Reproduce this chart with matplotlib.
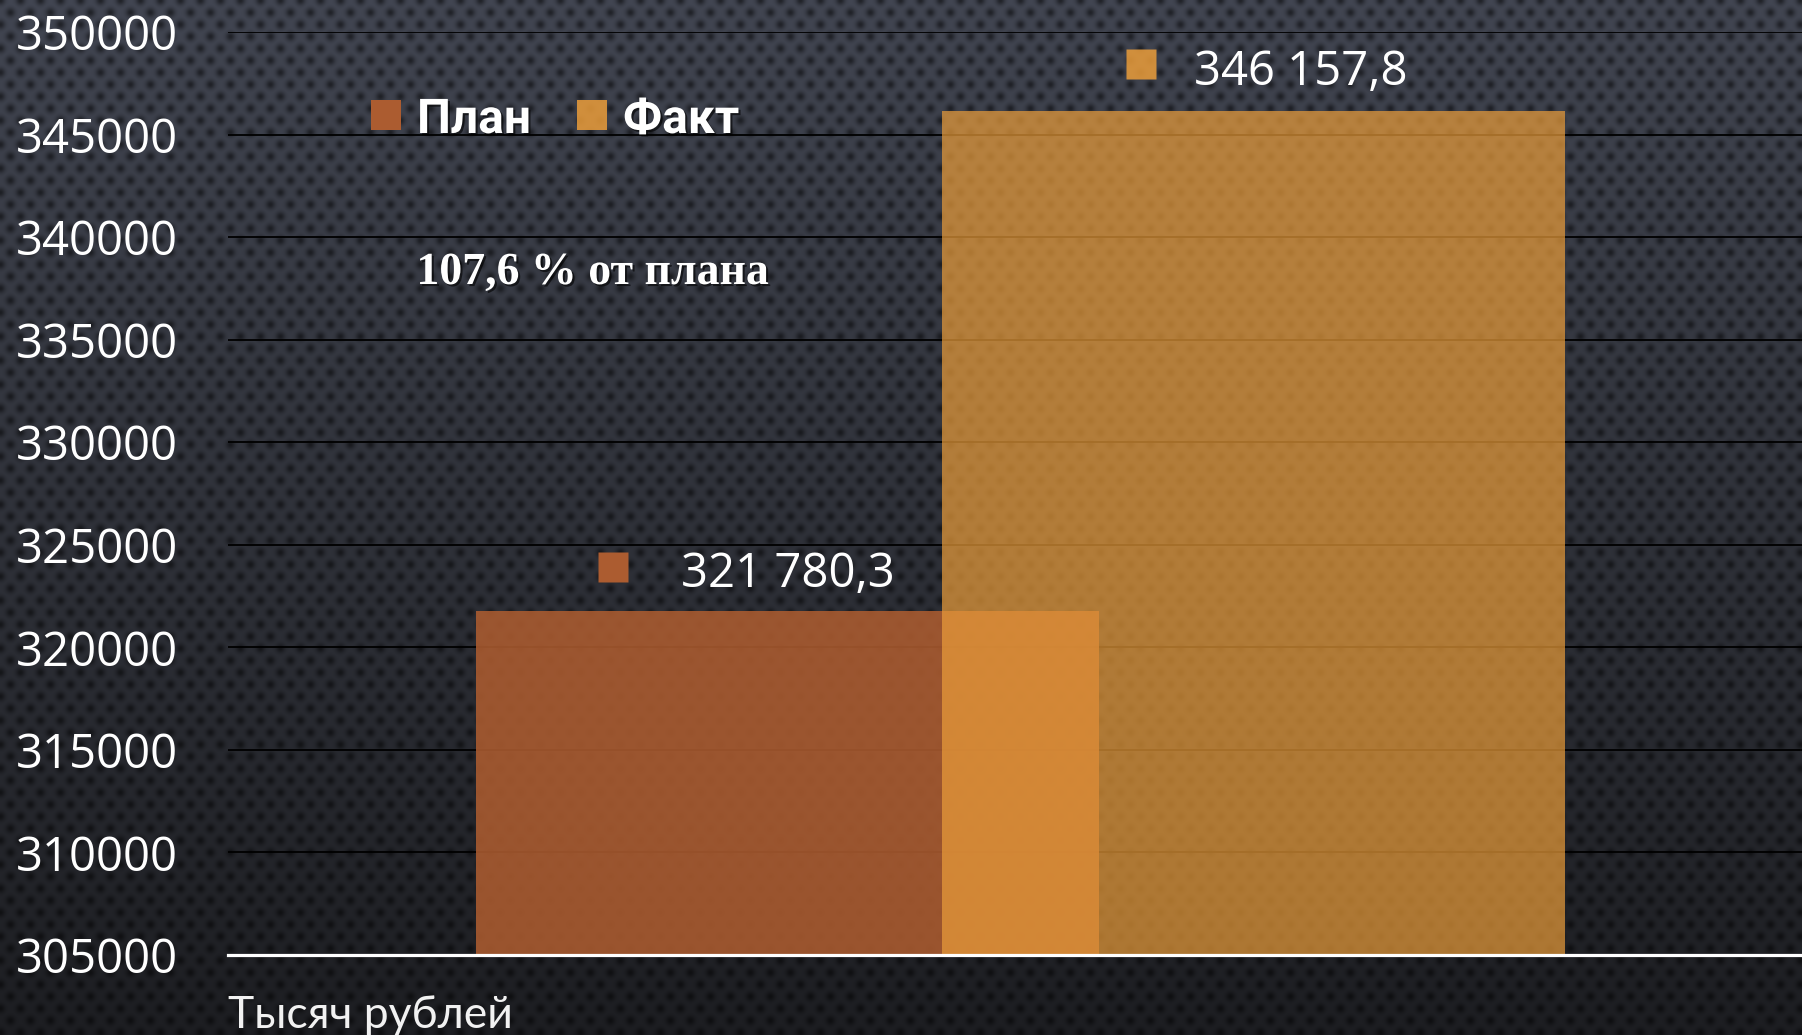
import numpy as np
import matplotlib
matplotlib.use('Agg')
import matplotlib.pyplot as plt
import matplotlib.patheffects as pe
from matplotlib.patches import Rectangle
from matplotlib.transforms import offset_copy

# ---- data ----
series = ['План', 'Факт']
values = [321780.3, 346157.8]
value_labels = ['321 780,3', '346 157,8']
yticks = list(range(305000, 350001, 5000))
ytick_labels = [str(v) for v in yticks]
note = '107,6 % от плана'
axis_title = 'Тысяч рублей'

# ---- style ----
W, H = 1802, 1035
plan_col = (172/255, 92/255, 48/255)
fact_col = (235/255, 157/255, 58/255)
alphas = [0.88, 0.70]
colors = [plan_col, fact_col]

fig = plt.figure(figsize=(W/100, H/100), dpi=100)

# background: vertical gradient with perforated dot texture
yy, xx = np.mgrid[0:H, 0:W].astype(float)
dx, dy = 20.0, 12.0
ax_ = ((xx + dx/2) % dx) - dx/2
ay_ = ((yy + dy) % (2*dy)) - dy
bx_ = (xx % dx) - dx/2
by_ = (yy % (2*dy)) - dy
d2 = np.minimum(ax_**2 + ay_**2, bx_**2 + by_**2)
dots = np.exp(-d2 / (2*3.2**2))
t = (yy / H)[..., None]
top = np.array([66, 70, 82]) / 255
bot = np.array([29, 30, 34]) / 255
base = top * (1 - t) + bot * t
img = base * (1 - 0.5 * dots[..., None])
bg = fig.add_axes([0, 0, 1, 1], zorder=-10)
bg.imshow(np.clip(img, 0, 1), extent=[0, W, H, 0], aspect='auto', interpolation='nearest')
bg.set_xlim(0, W); bg.set_ylim(H, 0)
bg.axis('off')

# main axes
ax = fig.add_axes([228/W, 80/H, 1 - 228/W, 923/H])
ax.set_facecolor('none')
ax.set_xlim(-0.5035, 0.4965)
ax.set_ylim(305000, 350000)
ax.set_yticks(yticks)
ax.set_yticklabels(ytick_labels, family=['Open Sans', 'DejaVu Sans'], fontsize=34, color='white')
ax.tick_params(axis='y', length=0, pad=36)
ax.set_xticks([])
ax.yaxis.grid(True, color='black', lw=1.3)
ax.set_axisbelow(True)
for s in ['top', 'right', 'left']:
    ax.spines[s].set_visible(False)
ax.spines['bottom'].set_color('white')
ax.spines['bottom'].set_linewidth(2.3)
ax.spines['bottom'].set_zorder(5)

offsets = [-0.148, 0.148]
width = 0.396
for i, (name, v) in enumerate(zip(series, values)):
    ax.bar(offsets[i], v - 305000, bottom=305000, width=width,
           color=colors[i], alpha=alphas[i], label=name, zorder=2 + i, linewidth=0)

# value labels with keys
text_off = [(0, 37), (47, 39)]      # pixels
key_off = [(-175, 44), (-112, 47)]  # pixels
for i, v in enumerate(values):
    ax.annotate(value_labels[i], xy=(offsets[i], v), xytext=(text_off[i][0]*0.72, text_off[i][1]*0.72),
                textcoords='offset points', ha='center', va='center', color='white',
                family=['Open Sans', 'DejaVu Sans'], fontsize=34, zorder=6, annotation_clip=False)
    tr = offset_copy(ax.transData, fig=fig, x=key_off[i][0], y=key_off[i][1], units='dots')
    ax.plot([offsets[i]], [v], marker='s', ms=30*0.72, color=colors[i], alpha=min(1, alphas[i] + 0.15),
            mec='none', transform=tr, clip_on=False, zorder=6)

shadow = [pe.SimplePatchShadow(offset=(1.5, -1.5), shadow_rgbFace='black', alpha=0.6), pe.Normal()]

# legend (manual)
leg_sq_x = [371, 577]
leg_tx_x = [417, 623]
for i, name in enumerate(series):
    fig.add_artist(Rectangle((leg_sq_x[i]/W, 1 - 130/H), 30/W, 30/H, transform=fig.transFigure,
                             color=colors[i], alpha=min(1, alphas[i] + 0.15), lw=0))
    fig.text(leg_tx_x[i]/W, 1 - 133/H, name, ha='left', va='baseline', color='white',
             family=['Roboto', 'DejaVu Sans'], weight='bold', fontsize=34.5,
             path_effects=shadow)

# note
fig.text(593/W, 1 - 284/H, note, ha='center', va='baseline', color='white',
         family=['Liberation Serif', 'DejaVu Serif'], weight='bold', fontsize=33, path_effects=shadow)

# axis title
fig.text(228/W, 1 - 1028/H, axis_title, ha='left', va='baseline', color='#f2f2f2',
         family=['Lato', 'DejaVu Sans'], weight='normal', fontsize=32)

fig.savefig('out.png', dpi=100)
